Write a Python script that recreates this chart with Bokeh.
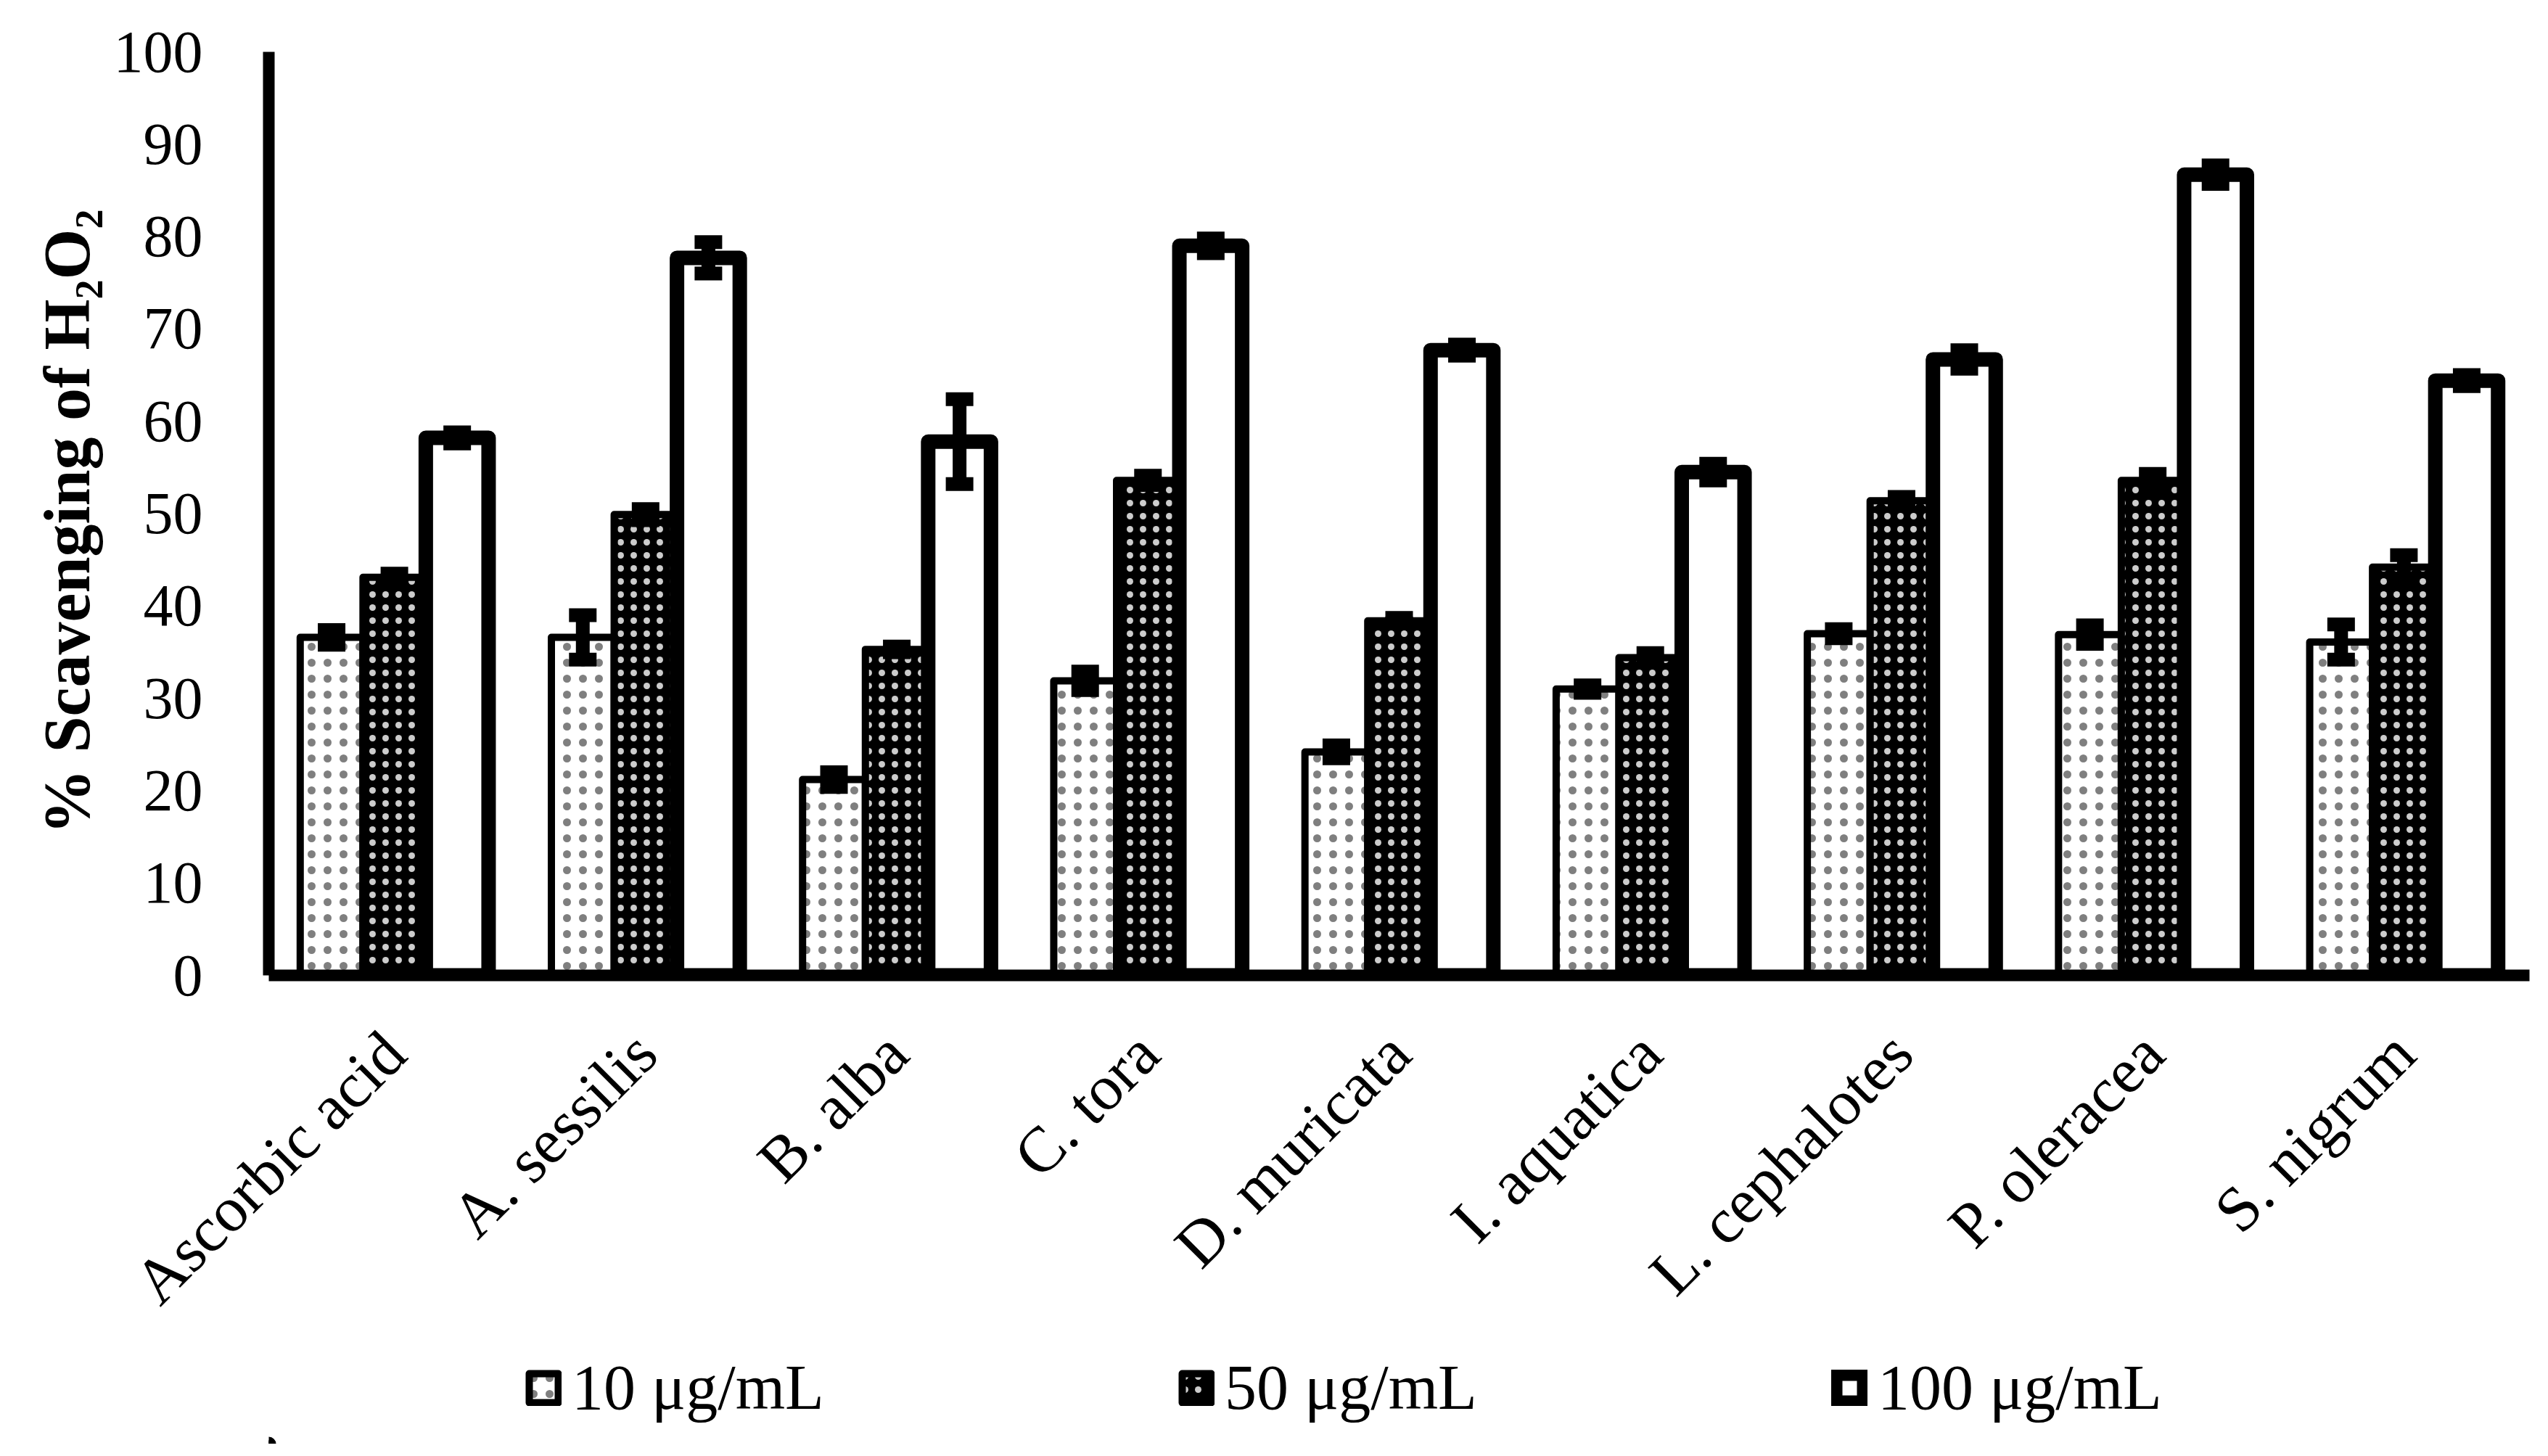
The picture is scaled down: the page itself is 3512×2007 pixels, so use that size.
import math
from bokeh.plotting import figure
from bokeh.layouts import column
from bokeh.models import (ColumnDataSource, FactorRange, Range1d, FixedTicker, Whisker,
                          TeeHead, Legend, LegendItem)
from bokeh.transform import dodge
from bokeh.embed import file_html
from bokeh.resources import INLINE

categories = ["Ascorbic acid", "A. sessilis", "B. alba", "C. tora", "D. muricata",
              "I. aquatica", "L. cephalotes", "P. oleracea", "S. nigrum"]
series_names = ["10 μg/mL", "50 μg/mL", "100 μg/mL"]
v10 = [36.6, 36.6, 21.2, 31.9, 24.2, 31.0, 37.0, 36.9, 36.1]
v50 = [43.1, 49.9, 35.3, 53.6, 38.4, 34.4, 51.4, 53.6, 44.2]
v100 = [58.2, 77.7, 57.8, 79.0, 67.7, 54.5, 66.7, 86.7, 64.4]
e10 = [0.8, 2.4, 0.8, 1.0, 0.7, 0.4, 0.5, 1.0, 1.9]
e50 = [0.4, 0.6, 0.3, 0.5, 0.3, 0.5, 0.4, 0.7, 1.3]
e100 = [0.6, 1.7, 4.6, 0.8, 0.6, 0.9, 1.0, 1.0, 0.6]
y_ticks = [0, 10, 20, 30, 40, 50, 60, 70, 80, 90, 100]
y_title = "% Scavenging  of H₂O₂"

FONT = "Liberation Serif"
W = 3496
H1, H2 = 1864, 126

src = ColumnDataSource(dict(
    cat=categories, v10=v10, v50=v50, v100=v100,
    lo10=[v - e for v, e in zip(v10, e10)], hi10=[v + e for v, e in zip(v10, e10)],
    lo50=[v - e for v, e in zip(v50, e50)], hi50=[v + e for v, e in zip(v50, e50)],
    lo100=[v - e for v, e in zip(v100, e100)], hi100=[v + e for v, e in zip(v100, e100)],
))

style10 = dict(fill_color="white", line_color="black", line_width=10, line_join="round",
               hatch_pattern="dot", hatch_color="black", hatch_scale=22, hatch_alpha=0.5)
style50 = dict(fill_color="black", line_color="black", line_width=10, line_join="round",
               hatch_pattern="dot", hatch_color="white", hatch_scale=18, hatch_alpha=0.8)
style100 = dict(fill_color="white", line_color="black", line_width=20, line_join="round")

p = figure(x_range=FactorRange(factors=categories, range_padding=0),
           y_range=Range1d(0, 100),
           width=W, height=H1, output_backend="svg", toolbar_location=None,
           min_border_left=370, min_border_right=10, min_border_top=71,
           min_border_bottom=H1 - 1344)
p.outline_line_color = None
p.xgrid.visible = False
p.ygrid.visible = False
p.background_fill_color = "white"

w = 0.25
p.vbar(x=dodge("cat", -0.25, range=p.x_range), top="v10", width=w, source=src, **style10)
p.vbar(x=dodge("cat", 0.0, range=p.x_range), top="v50", width=w, source=src, **style50)
p.vbar(x=dodge("cat", 0.25, range=p.x_range), top="v100", width=w, source=src, **style100)

for off, lo, hi in [(-0.25, "lo10", "hi10"), (0.0, "lo50", "hi50"), (0.25, "lo100", "hi100")]:
    wh = Whisker(source=src, base=dodge("cat", off, range=p.x_range), lower=lo, upper=hi,
                 line_width=19, line_color="black", line_cap="butt", level="overlay",
                 upper_head=TeeHead(size=38, line_width=19, line_color="black"),
                 lower_head=TeeHead(size=38, line_width=19, line_color="black"))
    p.add_layout(wh)

for ax in (p.xaxis[0], p.yaxis[0]):
    ax.axis_line_width = 16
    ax.axis_line_color = "black"
    ax.major_tick_line_color = None
    ax.minor_tick_line_color = None
    ax.major_label_text_font = FONT
    ax.major_label_text_color = "black"

p.yaxis.ticker = FixedTicker(ticks=y_ticks)
p.yaxis.major_label_text_font_size = "82px"
p.yaxis.major_label_standoff = 85
p.yaxis.axis_label = y_title
p.yaxis.axis_label_text_font = FONT
p.yaxis.axis_label_text_font_style = "bold"
p.yaxis.axis_label_text_font_size = "90px"
p.yaxis.axis_label_text_color = "black"
p.yaxis.axis_label_standoff = 12

p.xaxis.major_label_orientation = math.pi / 4
p.xaxis.major_label_text_font_size = "88px"
p.xaxis.major_label_standoff = 87

# legend strip underneath (same series styles; its sample bar lies far outside the view)
pl = figure(width=W, height=H2, x_range=Range1d(0, 1), y_range=Range1d(0, 1),
            x_axis_location=None, y_axis_location=None, output_backend="svg",
            toolbar_location=None, min_border=0)
pl.outline_line_color = None
pl.xgrid.visible = False
pl.ygrid.visible = False
sample = ColumnDataSource(dict(x=[-10.0], top=[-10.0], bottom=[-10.5]))
l10 = pl.vbar(x="x", top="top", bottom="bottom", width=0.1, source=sample, **style10)
l50 = pl.vbar(x="x", top="top", bottom="bottom", width=0.1, source=sample, **style50)
l100 = pl.vbar(x="x", top="top", bottom="bottom", width=0.1, source=sample, **style100)

legend = Legend(items=[LegendItem(label=series_names[0], renderers=[l10]),
                       LegendItem(label=series_names[1], renderers=[l50]),
                       LegendItem(label=series_names[2], renderers=[l100])],
                orientation="horizontal", location=(354, 27),
                label_text_font=FONT, label_text_font_size="88px", label_text_color="black",
                glyph_width=50, glyph_height=50, label_standoff=14,
                label_width=544, spacing=292, label_height=50,
                padding=0, margin=0, border_line_color=None, background_fill_alpha=0)
pl.add_layout(legend)

layout = column(p, pl, spacing=0)
open("out.html", "w").write(file_html(layout, INLINE))
